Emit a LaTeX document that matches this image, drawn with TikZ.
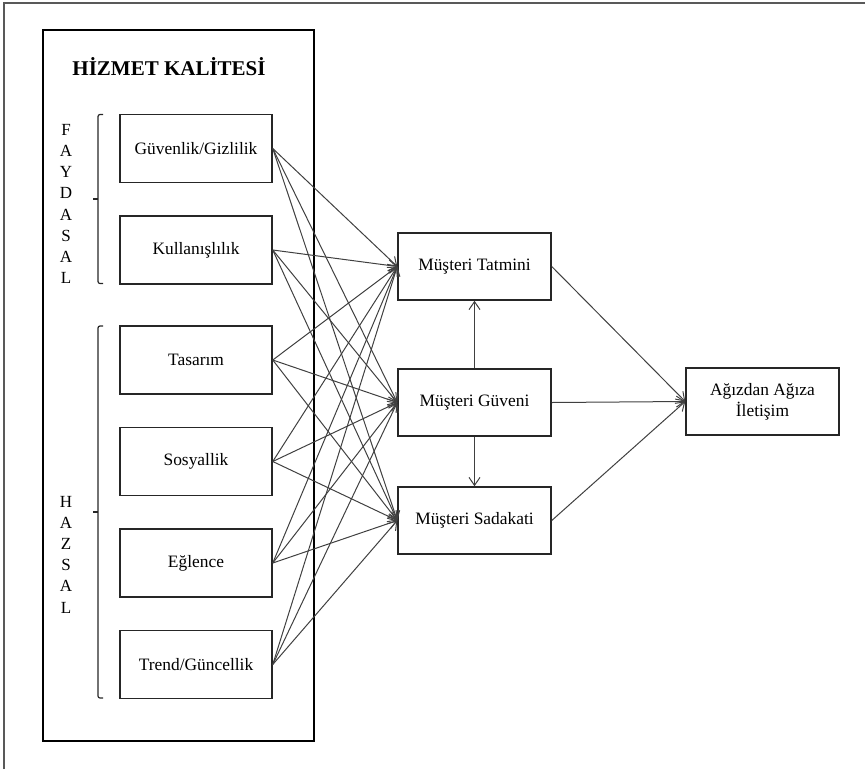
\documentclass[tikz,border=0pt]{standalone}
\usepackage{fontspec}
\setmainfont{Liberation Serif}
\usetikzlibrary{arrows.meta}
\begin{document}
\begin{tikzpicture}[x=1pt,y=-1pt,
  box/.style={draw=black!85, line width=1.5pt, minimum width=152pt, minimum height=68pt, inner sep=0pt, font=\fontsize{17.4}{21}\selectfont, align=center},
  conn/.style={draw=black!75, line width=1pt, -{Straight Barb[length=8pt,width=11pt]}},
  brk/.style={draw=black!85, line width=1.2pt, rounded corners=2pt},
  side/.style={font=\fontsize{17}{21.2}\selectfont, align=center, inner sep=0pt}]
\useasboundingbox (0,0) rectangle (865,769);
% outer frame (top and left edges only)
\draw[black!65, line width=1.6pt] (4,769) -- (4,3) -- (865,3);
% service quality frame
\node[draw=black, line width=1.3pt, minimum width=271pt, minimum height=711pt, inner sep=0pt] (frame) at (178.5,385.5) {};
\node[font=\bfseries\fontsize{21}{24}\selectfont, inner sep=0pt] (title) at (169,67) {HİZMET KALİTESİ};
% left boxes
\node[box] (g1) at (196,148.5) {Güvenlik/Gizlilik};
\node[box] (g2) at (196,250) {Kullanışlılık};
\node[box] (g3) at (196,360) {Tasarım};
\node[box] (g4) at (196,461.5) {Sosyallik};
\node[box] (g5) at (196,563) {Eğlence};
\node[box] (g6) at (196,664.5) {Trend/Güncellik};
% brackets
\draw[brk] (103,114.5) -- (98,114.5) -- (98,283.5) -- (103,283.5);
\draw[black!85, line width=1.2pt] (93,199) -- (98,199);
\draw[brk] (103,326) -- (98,326) -- (98,698) -- (103,698);
\draw[black!85, line width=1.2pt] (93,512) -- (98,512);
\node[side] (fay) at (66,204) {F\\A\\Y\\D\\A\\S\\A\\L};
\node[side] (haz) at (66,554.5) {H\\A\\Z\\S\\A\\L};
% middle boxes
\node[box, minimum width=153pt, minimum height=67pt] (tat) at (474.5,266.5) {Müşteri Tatmini};
\node[box, minimum width=153pt, minimum height=67pt] (guv) at (474.5,402.5) {Müşteri Güveni};
\node[box, minimum width=153pt, minimum height=67pt] (sad) at (474.5,520.5) {Müşteri Sadakati};
% right box
\node[box, minimum width=153pt, minimum height=67pt] (agz) at (762.5,401.5) {Ağızdan Ağıza\\İletişim};
% connectors
\foreach \s in {g1,g2,g3,g4,g5,g6}{
  \foreach \t in {tat,guv,sad}{
    \draw[conn] (\s.east) -- (\t.west);
  }
}
\draw[conn] (guv.north) -- (tat.south);
\draw[conn] (guv.south) -- (sad.north);
\draw[conn] (tat.east) -- (agz.west);
\draw[conn] (guv.east) -- (agz.west);
\draw[conn] (sad.east) -- (agz.west);
\end{tikzpicture}
\end{document}
